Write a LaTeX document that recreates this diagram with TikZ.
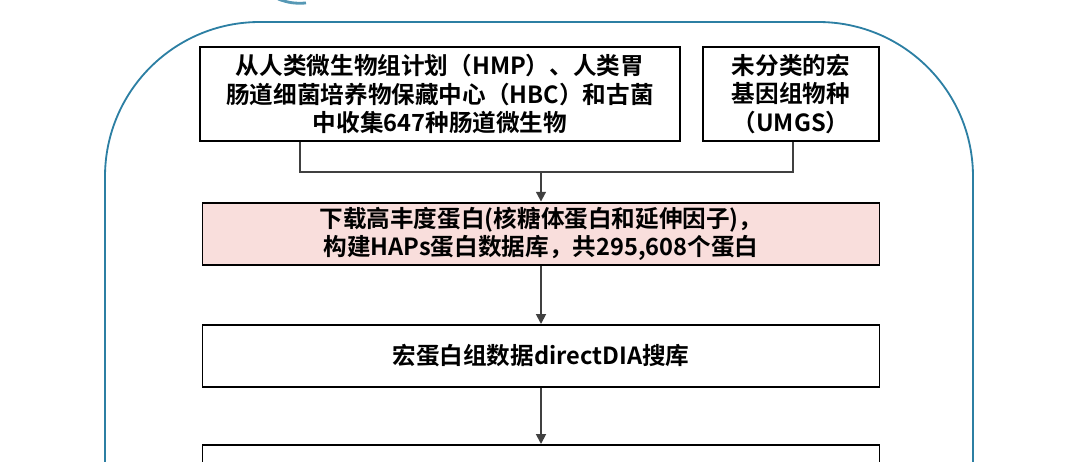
\documentclass[tikz,border=0pt]{standalone}
\usepackage{fontspec}
\setmainfont{Noto Sans CJK SC}[BoldFont={* Bold}]
\usetikzlibrary{arrows.meta, positioning}
\definecolor{frameblue}{HTML}{2C7FA3}
\definecolor{boxpink}{HTML}{F9DEDC}
\begin{document}
\begin{tikzpicture}[
    x=0.025cm, y=-0.025cm,
    stage/.style={rectangle, draw, line width=1.4pt, minimum height=1.55cm, align=center, font=\fontsize{16.8}{20}\selectfont\bfseries},
    arrow/.style={-{Triangle[length=7pt, width=7pt]}, line width=1.3pt, draw=black!75},
    link/.style={line width=1.3pt, draw=black!75}
]
    \useasboundingbox (0,0) rectangle (1080,461);
    % Outer frame
    \draw[frameblue, line width=1.3pt, rounded corners=110] (105,520) -- (105,22) -- (973,22) -- (973,520);
    \draw[frameblue!80, line width=2pt] (278,-1) to[bend right=12] (306,3);
    % Sources
    \node[stage, minimum width=12cm, minimum height=2.35cm] (hmp) at (440,94) {从人类微生物组计划（HMP）、人类胃\\肠道细菌培养物保藏中心（HBC）和古菌\\中收集647种肠道微生物};
    \node[stage, minimum width=4.42cm, minimum height=2.35cm] (umgs) at (791,94) {未分类的宏\\基因组物种\\（UMGS）};
    % Steps
    \node[stage, fill=boxpink, minimum width=16.92cm] (hap) at (541,234) {下载高丰度蛋白(核糖体蛋白和延伸因子)，\\构建HAPs蛋白数据库，共295,608个蛋白};
    \node[stage, minimum width=16.92cm] (dia) at (541,356) {宏蛋白组数据directDIA搜库};
    \node[stage, minimum width=16.92cm] (next) at (541,476) {};
    % Flow
    \coordinate (join) at (541,172);
    \draw[link] (hmp.south -| 300,0) |- (join) -| (umgs.south -| 793,0);
    \draw[arrow] (join) -- (hap);
    \draw[arrow] (hap) -- (dia);
    \draw[arrow] (dia) -- (next);
\end{tikzpicture}
\end{document}
